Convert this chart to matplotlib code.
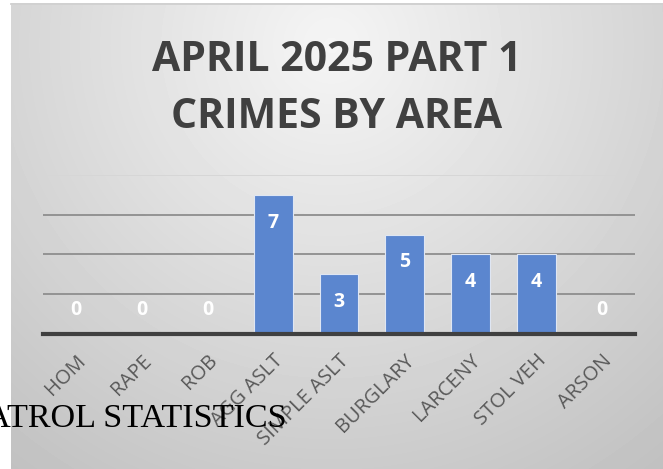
import numpy as np
import matplotlib
matplotlib.use("Agg")
import matplotlib.pyplot as plt

categories = ["HOM", "RAPE", "ROB", "AGG ASLT", "SIMPLE ASLT", "BURGLARY", "LARCENY", "STOL VEH", "ARSON"]
counts = [0, 0, 0, 7, 3, 5, 4, 4, 0]
title = "APRIL 2025 PART 1\nCRIMES BY AREA"
W, H = 663, 469

fig = plt.figure(figsize=(W / 100, H / 100), dpi=100)
fig.patch.set_facecolor("white")

# radial gray gradient panel
bg = fig.add_axes([11 / W, 0, (W - 11) / W, (H - 5) / H], zorder=0)
yy, xx = np.mgrid[0:464, 0:652]
r = np.sqrt(((xx - 320) / 520.0) ** 2 + ((yy - 40) / 520.0) ** 2)
shade = np.clip(0.96 - 0.2 * r, 0.74, 1.0)
bg.imshow(shade, cmap="gray", vmin=0, vmax=1, aspect="auto", interpolation="bilinear")
bg.set_axis_off()
fig.add_artist(plt.Line2D([11 / W, 1], [1 - 4.5 / H, 1 - 4.5 / H], color="#c8c8c8", lw=1.2))

ax = fig.add_axes([43 / W, (H - 334) / H, (635 - 43) / W, (334 - 175) / H], zorder=1)
ax.set_facecolor("none")
x = np.arange(len(categories))
ax.set_xlim(-0.5, len(categories) - 0.5)
ax.set_ylim(0, 8)
for v in [2, 4, 6]:
    ax.axhline(v, color="#939393", lw=1.4, zorder=1)
ax.axhline(8, color="#d6d6d6", lw=1.4, zorder=1)
ax.bar(x, counts, width=0.59, color="#5b86cf", edgecolor="#dfe6f3", linewidth=0.8, zorder=2)
ax.axhline(0, color="#404040", lw=3, zorder=3, clip_on=False)

for xi, v in zip(x, counts):
    dy = 17 if v == 0 else -20
    ax.annotate(str(v), (xi, v), xytext=(0, dy), textcoords="offset points",
                ha="center", va="center", color="white", fontsize=14, fontweight="bold",
                family="Open Sans")

ax.set_xticks(x)
ax.set_xticklabels(categories, rotation=45, ha="right", rotation_mode="anchor",
                   color="#595959", fontsize=14.5, family="Open Sans")
ax.tick_params(axis="x", length=0, pad=12)
ax.set_yticks([])
for s in ax.spines.values():
    s.set_visible(False)

fig.text(0.5 * (152 + 521) / W, 1 - 89 / H, title, ha="center", va="center",
         fontsize=29.5, fontweight="bold", color="#404040", family="Open Sans",
         linespacing=1.5)

fig.text(287 / W, 1 - 427 / H, "PATROL STATISTICS", ha="right", va="baseline",
         fontsize=24.6, color="black", family="Liberation Serif", zorder=5)

fig.savefig("out.png", dpi=100)
